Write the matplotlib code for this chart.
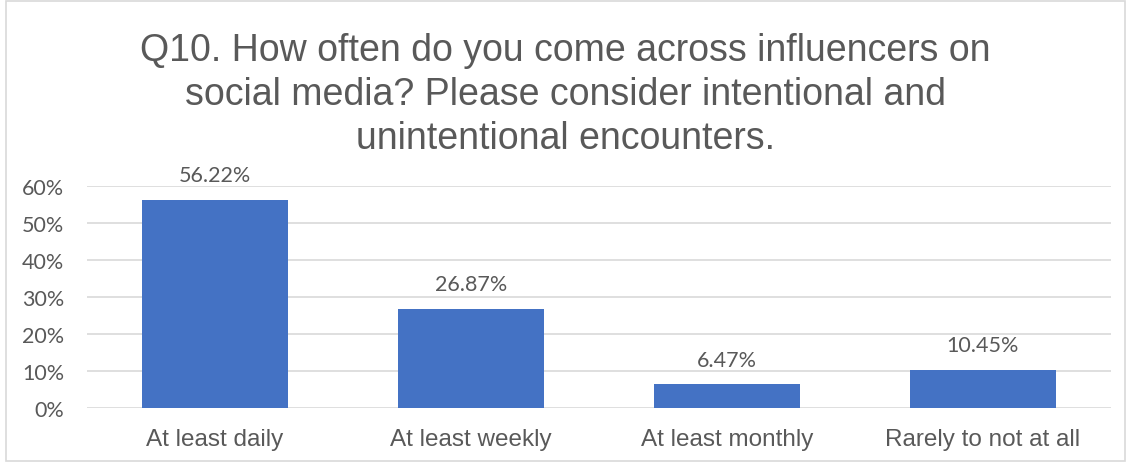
import matplotlib.pyplot as plt
from matplotlib.patches import Rectangle

categories = ['At least daily', 'At least weekly', 'At least monthly', 'Rarely to not at all']
shares = [56.22, 26.87, 6.47, 10.45]
y_ticks = [0, 10, 20, 30, 40, 50, 60]
title = ('Q10. How often do you come across influencers on\n'
         'social media? Please consider intentional and\n'
         'unintentional encounters.')

text_color = '#595959'
grid_color = '#D9D9D9'

fig = plt.figure(figsize=(11.31, 4.64), dpi=100)
fig.patches.append(Rectangle((0.005, 0.004), 0.99, 0.992, transform=fig.transFigure,
                             fill=False, edgecolor=grid_color, linewidth=1.2))

ax = fig.add_axes([0.077, 0.118, 0.905, 0.479])
x = range(len(categories))
bars = ax.bar(x, shares, width=0.57, color='#4472C4', zorder=3)

for b, v in zip(bars, shares):
    ax.annotate(f'{v:.2f}%', (b.get_x() + b.get_width() / 2, v), xytext=(0, 13.5),
                textcoords='offset points', ha='center', va='baseline',
                fontsize=15.5, color=text_color, family='Lato', annotation_clip=False)

ax.set_xlim(-0.5, len(categories) - 0.5)
ax.set_ylim(0, 60)
ax.set_yticks(y_ticks)
ax.set_yticklabels([f'{t}%' for t in y_ticks], family='Lato', fontsize=15.5, color=text_color)
ax.set_xticks(list(x))
ax.set_xticklabels(categories, family='Liberation Sans', fontsize=17.5, color=text_color)
ax.tick_params(axis='both', length=0)
ax.tick_params(axis='x', pad=14)
ax.tick_params(axis='y', pad=16.5)
ax.grid(axis='y', color=grid_color, linewidth=1.2, zorder=0)
for s in ax.spines.values():
    s.set_visible(False)

fig.text(0.5, 1 - 33 / 464, title, ha='center', va='top', fontsize=27, color=text_color,
         family='Liberation Sans', linespacing=1.29)

plt.savefig('out.png', dpi=100)
plt.close()
